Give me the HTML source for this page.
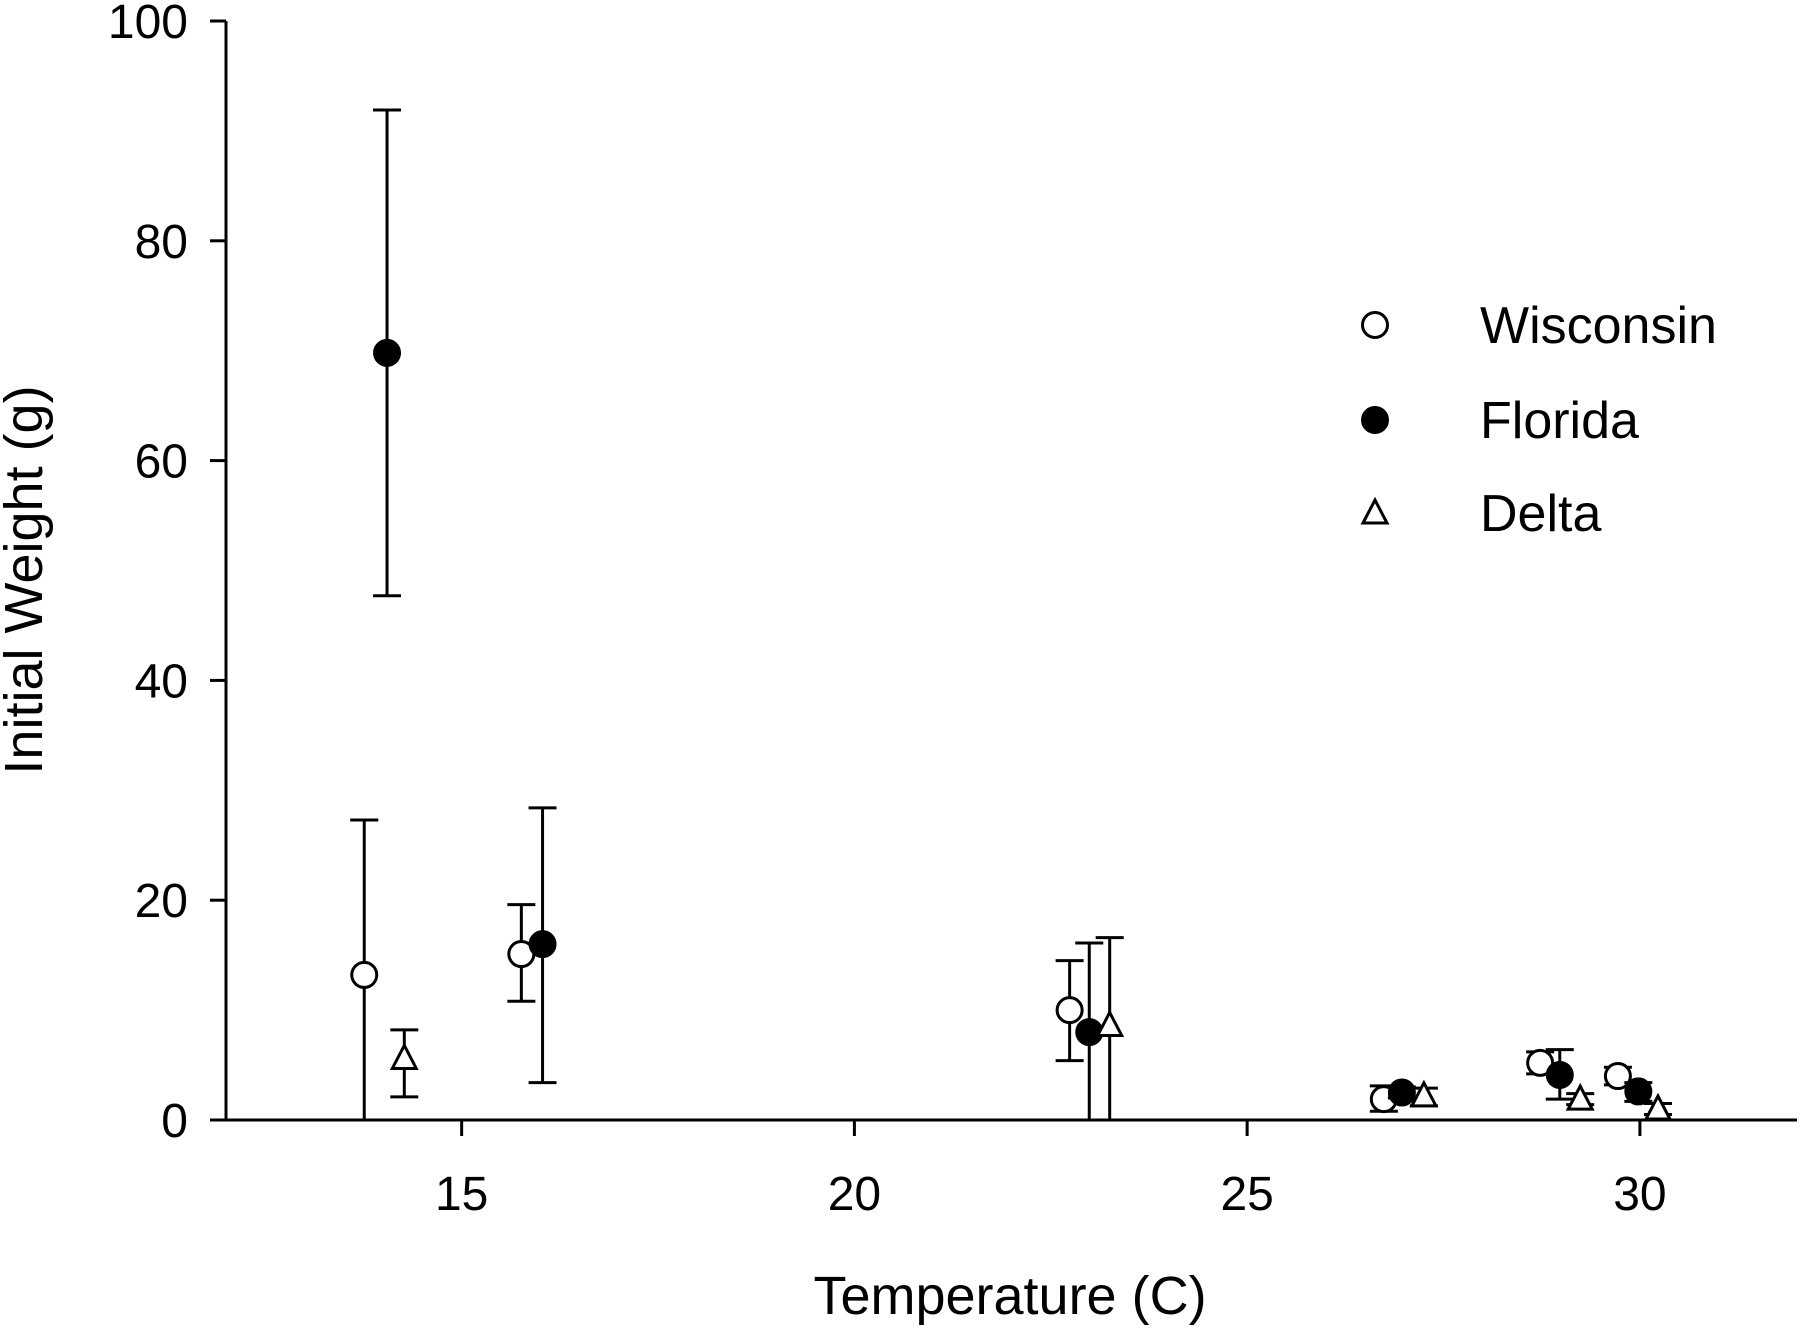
<!DOCTYPE html>
<html><head><meta charset="utf-8"><style>
html,body{margin:0;padding:0;background:#fff;}
svg{display:block;font-family:"Liberation Sans",Arial,sans-serif;}
</style></head><body>
<svg id="chart" width="1800" height="1332" viewBox="0 0 1800 1332" xmlns="http://www.w3.org/2000/svg">
<g id="axes"></g>
<g id="marks"></g>
<g id="legend"></g>
<text x="1010" y="1314" font-size="54" text-anchor="middle">Temperature (C)</text>
<text transform="translate(42,580) rotate(-90)" font-size="54" text-anchor="middle">Initial Weight (g)</text>
</svg>
<script>
const xTicks = [15, 20, 25, 30];
const yTicks = [0, 20, 40, 60, 80, 100];
const seriesNames = ["Wisconsin", "Florida", "Delta"];
const wiscX = [13.76, 15.76, 22.74, 26.74, 28.73, 29.72];
const wiscY = [13.2, 15.1, 10.0, 1.9, 5.2, 4.0];
const wiscHi = [27.3, 19.6, 14.5, 3.1, 6.2, 4.8];
const wiscLo = [0, 10.8, 5.4, 0.8, 4.2, 3.2];
const floX = [14.05, 16.03, 22.99, 26.97, 28.98, 29.98];
const floY = [69.8, 16.0, 8.0, 2.5, 4.1, 2.6];
const floHi = [91.9, 28.4, 16.1, 3.0, 6.4, 3.4];
const floLo = [47.7, 3.4, 0, 2.0, 1.9, 1.7];
const delX = [14.27, 23.25, 27.25, 29.24, 30.23];
const delY = [5.6, 8.6, 2.2, 1.9, 1.0];
const delHi = [8.2, 16.6, 2.9, 2.4, 1.5];
const delLo = [2.1, 0, 1.3, 1.4, 0.5];

const NS = "http://www.w3.org/2000/svg";
const X0 = 226, X1 = 1797, XMIN = 12, XMAX = 32;
const Y0 = 1120, Y1 = 21, YMIN = 0, YMAX = 100;
function sx(v){ return X0 + (v - XMIN) / (XMAX - XMIN) * (X1 - X0); }
function sy(v){ return Y0 - (v - YMIN) / (YMAX - YMIN) * (Y0 - Y1); }
function mk(tag, attrs, parent){
  const e = document.createElementNS(NS, tag);
  for (const k in attrs) e.setAttribute(k, attrs[k]);
  parent.appendChild(e); return e;
}
const axes = document.getElementById("axes");
const marks = document.getElementById("marks");
const legend = document.getElementById("legend");
const S = {stroke:"#000","stroke-width":3,fill:"none"};

let yl = mk("line", Object.assign({x1:X0,y1:Y0,x2:X0,y2:Y1}, S), axes);


let xl = mk("line", Object.assign({x1:X0-16,y1:Y0,x2:X1,y2:Y0}, S), axes);



yTicks.forEach(t => {
  const y = sy(t);
  let tk = mk("line", Object.assign({x1:X0-16,y1:y,x2:X0,y2:y}, S), axes);
  
  
  let lb = mk("text", {x:188, y:y+17, "font-size":48, "text-anchor":"end"}, axes);
  lb.textContent = t;
  
  
});
xTicks.forEach(t => {
  const x = sx(t);
  let tk = mk("line", Object.assign({x1:x,y1:Y0,x2:x,y2:Y0+16}, S), axes);
  
  
  let lb = mk("text", {x:x, y:1210, "font-size":48, "text-anchor":"middle"}, axes);
  lb.textContent = t;
  
  
});

function marker(type, cx, cy, parent){
  let m;
  if (type === 0) m = mk("circle", {cx:cx, cy:cy, r:12.5, fill:"#fff", stroke:"#000", "stroke-width":3}, parent);
  else if (type === 1) m = mk("circle", {cx:cx, cy:cy, r:13, fill:"#000", stroke:"#000", "stroke-width":2}, parent);
  else m = mk("polygon", {points:`${cx},${cy-13} ${cx+12},${cy+10} ${cx-12},${cy+10}`, fill:"#fff", stroke:"#000", "stroke-width":3}, parent);
  return m;
}
function drawSeries(type, xs, ys, his, los, name){
  xs.forEach((xv, i) => {
    const x = sx(xv);
    const g = mk("g", {}, marks);
    
    
    const yh = sy(his[i]), ylo = sy(los[i]);
    mk("line", Object.assign({x1:x,y1:yh,x2:x,y2:ylo}, S), g);
    mk("line", Object.assign({x1:x-14,y1:yh,x2:x+14,y2:yh}, S), g);
    if (los[i] > 0) mk("line", Object.assign({x1:x-14,y1:ylo,x2:x+14,y2:ylo}, S), g);
    marker(type, x, sy(ys[i]), g);
  });
}
drawSeries(0, wiscX, wiscY, wiscHi, wiscLo, "wisconsin");
drawSeries(1, floX, floY, floHi, floLo, "florida");
drawSeries(2, delX, delY, delHi, delLo, "delta");

const legY = [325, 420, 513];
seriesNames.forEach((n, i) => {
  const g = mk("g", {}, legend);
  
  
  marker(i, 1375, legY[i], g);
  const t = mk("text", {x:1480, y:legY[i]+18, "font-size":52}, g);
  t.textContent = n;
});
</script>
</body></html>
